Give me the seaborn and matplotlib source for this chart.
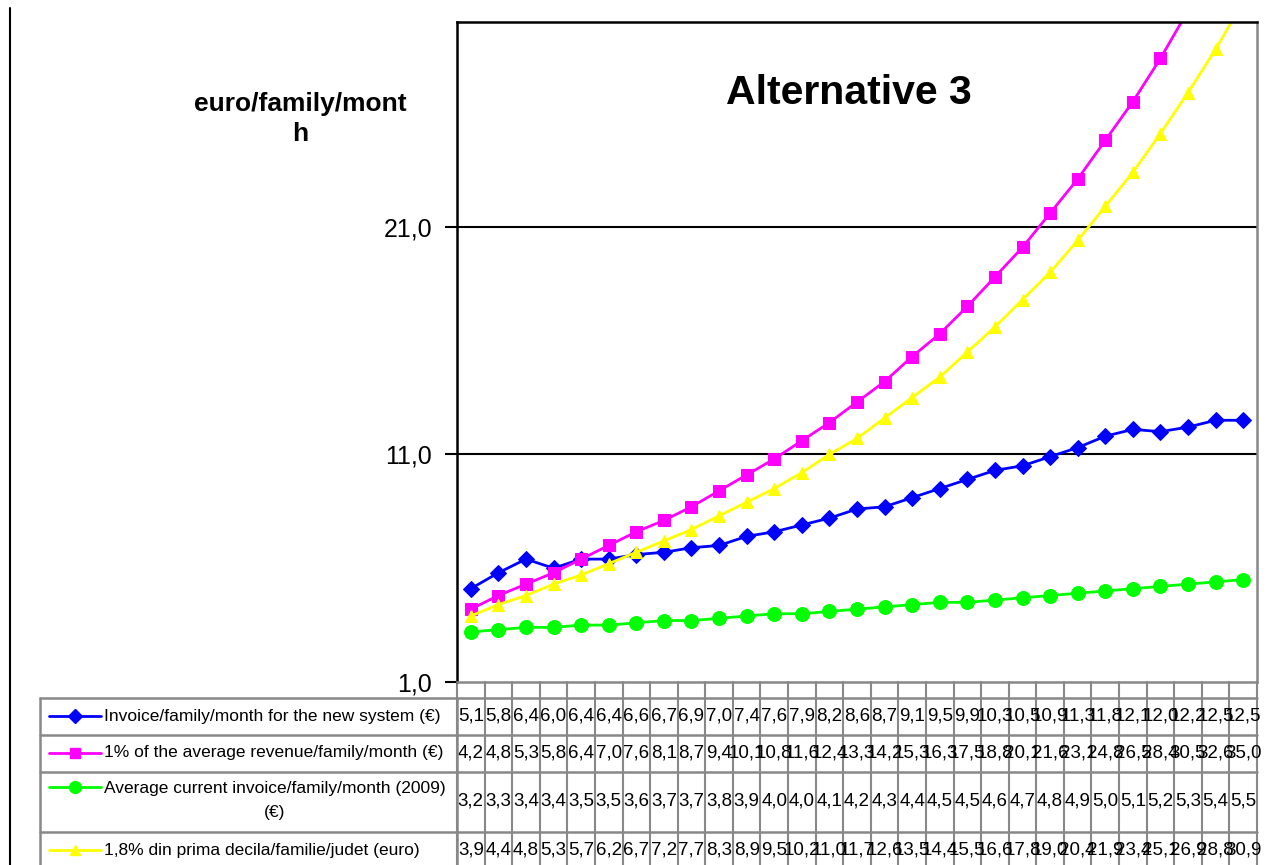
import numpy as np
import pandas as pd
import matplotlib
matplotlib.use('Agg')
import matplotlib.pyplot as plt
import matplotlib.transforms as mtransforms
from matplotlib.lines import Line2D
import seaborn as sns

# valori citite din tabelul graficului
invoice_new = [5.1, 5.8, 6.4, 6.0, 6.4, 6.4, 6.6, 6.7, 6.9, 7.0, 7.4, 7.6, 7.9, 8.2, 8.6,
               8.7, 9.1, 9.5, 9.9, 10.3, 10.5, 10.9, 11.3, 11.8, 12.1, 12.0, 12.2, 12.5, 12.5]
revenue_1pct = [4.2, 4.8, 5.3, 5.8, 6.4, 7.0, 7.6, 8.1, 8.7, 9.4, 10.1, 10.8, 11.6, 12.4, 13.3,
                14.2, 15.3, 16.3, 17.5, 18.8, 20.1, 21.6, 23.1, 24.8, 26.5, 28.4, 30.5, 32.6, 35.0]
invoice_2009 = [3.2, 3.3, 3.4, 3.4, 3.5, 3.5, 3.6, 3.7, 3.7, 3.8, 3.9, 4.0, 4.0, 4.1, 4.2,
                4.3, 4.4, 4.5, 4.5, 4.6, 4.7, 4.8, 4.9, 5.0, 5.1, 5.2, 5.3, 5.4, 5.5]
decile_18 = [3.9, 4.4, 4.8, 5.3, 5.7, 6.2, 6.7, 7.2, 7.7, 8.3, 8.9, 9.5, 10.2, 11.0, 11.7,
             12.6, 13.5, 14.4, 15.5, 16.6, 17.8, 19.0, 20.4, 21.9, 23.4, 25.1, 26.9, 28.8, 30.9]

series_labels = ['Invoice/family/month for the new system (\u20ac)',
                 '1% of the average revenue/family/month (\u20ac)',
                 'Average current invoice/family/month (2009)\n(\u20ac)',
                 '1,8% din prima decila/familie/judet (euro)']
series_colors = ['#0000FF', '#FF00FF', '#00FF00', '#FFFF00']
series_markers = ['D', 's', 'o', '^']
series_msize = [8.5, 9, 10, 9]
y_ticks = [1, 11, 21]
y_tick_labels = ['1,0', '11,0', '21,0']

sns.set_style('white')
plt.rcParams['font.family'] = ['Liberation Sans', 'DejaVu Sans']
plt.rcParams['text.color'] = 'black'
plt.rcParams['ytick.labelcolor'] = 'black'

W, H = 1267, 865
fig = plt.figure(figsize=(W / 100, H / 100), dpi=100)
ax = fig.add_axes([457 / W, 1 - 682 / H, 800 / W, 660 / H])

data = [invoice_new, revenue_1pct, invoice_2009, decile_18]
idx = np.arange(len(invoice_new))
for vals, c, m, ms in zip(data, series_colors, series_markers, series_msize):
    sns.lineplot(x=idx, y=vals, ax=ax, color=c, marker=m, markersize=ms,
                 markeredgecolor=c, linewidth=2, legend=False)

ax.set_xlim(-0.5, len(idx) - 0.5)
ax.set_ylim(1, 30)
ax.set_yticks(y_ticks)
ax.set_yticklabels(y_tick_labels, fontsize=18, color='black')
ax.set_xticks([])
ax.set_xlabel('')
ax.set_ylabel('')
ax.tick_params(axis='y', direction='out', length=9, width=1.5, color='black', pad=9, left=True)
for yv in y_ticks[1:]:
    ax.axhline(yv, color='black', lw=1.5, zorder=0)

ax.spines['left'].set_color('black')
ax.spines['top'].set_color('black')
ax.spines['right'].set_color('#888888')
ax.spines['bottom'].set_color('#888888')
for s in ax.spines.values():
    s.set_linewidth(1.8)

fig.text(849 / W, 1 - 93 / H, 'Alternative 3', fontsize=29.5, fontweight='bold',
         ha='center', va='center')
fig.text(300 / W, 1 - 119 / H, 'euro/family/mont\nh', fontsize=19, fontweight='bold',
         ha='center', va='center', linespacing=1.35)

# bordura stanga a graficului
fig.add_artist(Line2D([10 / W, 10 / W], [1 - 8 / H, 0], color='black', lw=1.5))

# tabel de date
grid = '#888888'
row_lines = [698, 735, 772, 832]
for py in row_lines:
    fig.add_artist(Line2D([40 / W, 1257 / W], [1 - py / H, 1 - py / H], color=grid, lw=1.8))
for px in [40, 457]:
    fig.add_artist(Line2D([px / W, px / W], [1 - 698 / H, 0], color=grid, lw=1.8))

blend = mtransforms.blended_transform_factory(ax.transData, fig.transFigure)
for b in np.arange(len(idx) + 1) - 0.5:
    ax.add_line(Line2D([b, b], [1 - 682 / H, 0], transform=blend, color=grid,
                       lw=1.5, clip_on=False))

row_text_y = [716, 753, 801, 850]
legend_y = [716, 753, 787, 850]
for vals, lab, c, m, ms, ty, ly in zip(data, series_labels, series_colors, series_markers,
                                      series_msize, row_text_y, legend_y):
    fy = 1 - ly / H
    fig.add_artist(Line2D([49 / W, 101 / W], [fy, fy], color=c, lw=2))
    fig.add_artist(Line2D([75 / W], [fy], color=c, marker=m, markersize=ms * 0.85,
                          markeredgecolor=c))
    fig.text(104 / W, 1 - ty / H, lab, fontsize=12.5, ha='left', va='center',
             multialignment='center', linespacing=1.75)
    for i, v in enumerate(vals):
        ax.text(i, 1 - ty / H, f'{v:.1f}'.replace('.', ','), transform=blend,
                fontsize=13.5, ha='center', va='center', clip_on=False)

fig.savefig('out.png', dpi=100)
